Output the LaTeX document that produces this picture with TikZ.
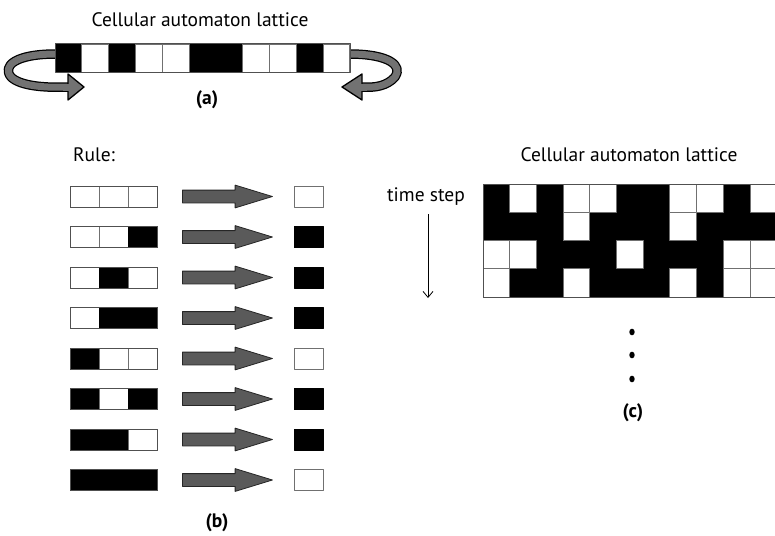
\documentclass[tikz,border=0pt]{standalone}
\usepackage{fontspec}
\setmainfont{PT Sans}
\usetikzlibrary{shapes.arrows, arrows.meta}
\definecolor{cellline}{HTML}{707070}
\definecolor{rimgray}{HTML}{505050}
\definecolor{arrowgray}{HTML}{5A5A5A}
\definecolor{bandgray}{HTML}{727272}
\tikzset{
  txt/.style={font=\fontsize{19.5}{22}\selectfont, inner sep=0pt},
  st0/.style={fill=white, draw=cellline},
  st1/.style={fill=black, draw=black},
  resbox/.style={minimum width=29pt, minimum height=21pt, inner sep=0pt, line width=0.9pt},
  blockarrow/.style={single arrow, draw=black!85, fill=arrowgray, line width=0.8pt,
    minimum width=22pt, minimum height=90pt, inner xsep=0pt, inner ysep=6pt,
    single arrow head extend=5pt, single arrow tip angle=34, anchor=tail},
}
\begin{document}
\begin{tikzpicture}[x=1pt, y=-1pt, line join=round]
  \clip (0,0) rectangle (775,535);

  % (a) lattice with periodic boundary
  \node[txt] (titlea) at (200,20) {Cellular automaton lattice};
  \draw[line width=9.5pt, black] (56,54) .. controls (15,54) and (2,66) .. (11,77) .. controls (20,86) and (45,88) .. (68,87);
  \draw[line width=7pt, bandgray] (56,54) .. controls (15,54) and (2,66) .. (11,77) .. controls (20,86) and (45,88) .. (68,87);
  \filldraw[fill=bandgray, draw=black, line width=1.3pt] (68,74) -- (84,87) -- (68,100) -- cycle;
  \draw[line width=7pt, bandgray] (63,87) -- (69.5,87);
  \draw[line width=9.5pt, black] (349,54) .. controls (390,54) and (403,66) .. (395,77) .. controls (387,86) and (375,88) .. (362,87);
  \draw[line width=7pt, bandgray] (349,54) .. controls (390,54) and (403,66) .. (395,77) .. controls (387,86) and (375,88) .. (362,87);
  \filldraw[fill=bandgray, draw=black, line width=1.3pt] (362,74) -- (342,87) -- (362,100) -- cycle;
  \draw[line width=7pt, bandgray] (360.5,87) -- (367,87);
  \fill[black] (55,44) rectangle (350,72);
  \foreach \s [count=\i from 0] in {1,0,1,0,0,1,1,0,0,1,0} {
    \ifnum\s=0 \filldraw[st0, line width=0.9pt] (55+26.8*\i,44) rectangle ++(26.8,28); \fi
  }
  \draw[rimgray, line width=1pt] (55,44) rectangle (350,72);
  \node[txt, font=\fontsize{19.5}{22}\selectfont\bfseries] (laba) at (207,100) {(a)};

  % (b) rule table
  \node[txt, anchor=west] (rule) at (73,155) {Rule:};
  \foreach \a/\b/\c/\r [count=\k from 0] in {0/0/0/0, 0/0/1/1, 0/1/0/1, 0/1/1/1,
                                          1/0/0/0, 1/0/1/1, 1/1/0/1, 1/1/1/0} {
    \filldraw[st\a, line width=0.9pt] (70,186+40.5*\k) rectangle ++(29,21);
    \filldraw[st\b, line width=0.9pt] (99,186+40.5*\k) rectangle ++(29,21);
    \filldraw[st\c, line width=0.9pt] (128,186+40.5*\k) rectangle ++(29,21);
    \draw[rimgray, line width=0.9pt] (70,186+40.5*\k) rectangle ++(87,21);
    \node[blockarrow] (arr\k) at (182,196.5+40.5*\k) {};
    \node[resbox, st\r] (res\k) at (308.5,196.5+40.5*\k) {};
  }
  \node[txt, font=\fontsize{19.5}{22}\selectfont\bfseries] (labb) at (217,523) {(b)};

  % (c) space-time lattice
  \node[txt] (titlec) at (629,155) {Cellular automaton lattice};
  \node[txt] (tstep) at (426,197) {time step};
  \coordinate (tstop) at (428,214);
  \coordinate (tsbot) at (428,298);
  \draw[-{Straight Barb[length=6pt, width=10pt]}, line width=0.8pt] (tstop) -- (tsbot);
  \fill[black] (483,184) rectangle (777,297);
  \foreach \row [count=\j from 0] in {{1,0,1,0,0,1,1,0,0,1,0}, {1,1,1,0,1,1,1,0,1,1,1},
                                     {0,0,1,1,1,0,1,1,1,0,0}, {0,1,1,0,1,1,1,0,1,0,0}} {
    \foreach \s [count=\i from 0] in \row {
      \ifnum\s=0 \filldraw[st0, line width=0.9pt] (483+26.7*\i,184+28.25*\j) rectangle ++(26.7,28.25); \fi
    }
  }
  \draw[rimgray, line width=1pt] (483,184) rectangle (777,297);
  \foreach \d in {332,355,379} {
    \fill (632,\d) ellipse (2.7 and 3.3);
  }
  \node[txt, font=\fontsize{19.5}{22}\selectfont\bfseries] (labc) at (633,413) {(c)};
\end{tikzpicture}
\end{document}
